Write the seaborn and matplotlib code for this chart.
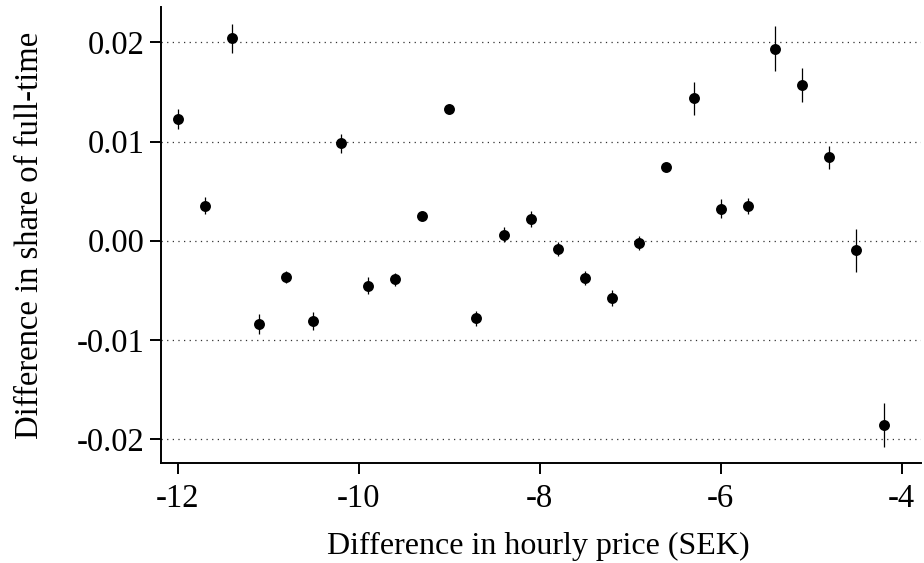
"""
Diferencia en precio por hora vs diferencia en la proporcion a tiempo completo
Salida: out.png
"""
import numpy as np
import pandas as pd
import matplotlib
matplotlib.use("Agg")
import matplotlib.pyplot as plt
import seaborn as sns

# Datos
price_diff = [-12.0, -11.7, -11.4, -11.1, -10.8, -10.5, -10.2, -9.9, -9.6,
              -9.3, -9.0, -8.7, -8.4, -8.1, -7.8, -7.5, -7.2, -6.9,
              -6.6, -6.3, -6.0, -5.7, -5.4, -5.1, -4.8, -4.5, -4.2]
share_diff = [0.0123, 0.00353, 0.0204, -0.0084, -0.00363, -0.0081, 0.0098, -0.00453, -0.0039,
              0.00253, 0.0133, -0.00783, 0.0006, 0.00219, -0.0008, -0.00376, -0.00578, -0.00023,
              0.0074, 0.01435, 0.00323, 0.00353, 0.01935, 0.0157, 0.0084, -0.00097, -0.01858]
share_se = [0.0010, 0.00086, 0.00148, 0.0010, 0.0006, 0.0009, 0.00096, 0.00084, 0.00067,
            0.0004, 0.0005, 0.00077, 0.00074, 0.00076, 0.0007, 0.0007, 0.00084, 0.00066,
            0.0004, 0.00168, 0.00097, 0.0008, 0.00227, 0.00173, 0.00113, 0.0022, 0.00219]

x_ticks = [-12, -10, -8, -6, -4]
x_tick_labels = ["-12", "-10", "-8", "-6", "-4"]
y_ticks = [0.02, 0.01, 0.0, -0.01, -0.02]
y_tick_labels = ["0.02", "0.01", "0.00", "-0.01", "-0.02"]

df = pd.DataFrame({"x": price_diff, "y": share_diff, "se": share_se})

sns.set_theme(style="ticks")
plt.rcParams["font.family"] = ["Liberation Serif", "DejaVu Serif"]
plt.rcParams["axes.unicode_minus"] = False

W, H = 924, 563
fig = plt.figure(figsize=(W / 100, H / 100), dpi=100)
ax = fig.add_axes([161 / W, 1 - 462.7 / H, (921 - 161) / W, (462.7 - 7.3) / H])

# lineas de referencia punteadas
for yt in y_ticks:
    ax.axhline(yt, color="#333333", lw=0.9, ls=(0, (1, 3.5)), zorder=1)

ax.errorbar(df["x"], df["y"], yerr=df["se"], fmt="none",
            ecolor="black", elinewidth=0.9, capsize=0, zorder=2)
sns.scatterplot(data=df, x="x", y="y", ax=ax, color="black", s=62,
                edgecolor="black", linewidth=0, zorder=3, legend=False)

ax.set_xlim(-12.1845, -3.787)
ax.set_ylim(-0.02238, 0.02353)
ax.set_xticks(x_ticks)
ax.set_xticklabels(x_tick_labels)
ax.set_yticks(y_ticks)
ax.set_yticklabels(y_tick_labels)

for side in ["top", "right"]:
    ax.spines[side].set_visible(False)
for side in ["left", "bottom"]:
    ax.spines[side].set_linewidth(1.4)
    ax.spines[side].set_color("black")

ax.tick_params(axis="both", direction="out", length=8, width=1.4,
               colors="black", labelsize=23.5)
ax.tick_params(axis="x", pad=7)
ax.tick_params(axis="y", pad=4)
ax.set_xlabel("Difference in hourly price (SEK)", fontsize=23, color="black")
ax.set_ylabel("Difference in share of full-time", fontsize=23.5, color="black")
ax.yaxis.set_label_coords(-0.152, 0.5)
ax.xaxis.set_label_coords(0.497, -0.152)

fig.savefig("out.png", dpi=100)
